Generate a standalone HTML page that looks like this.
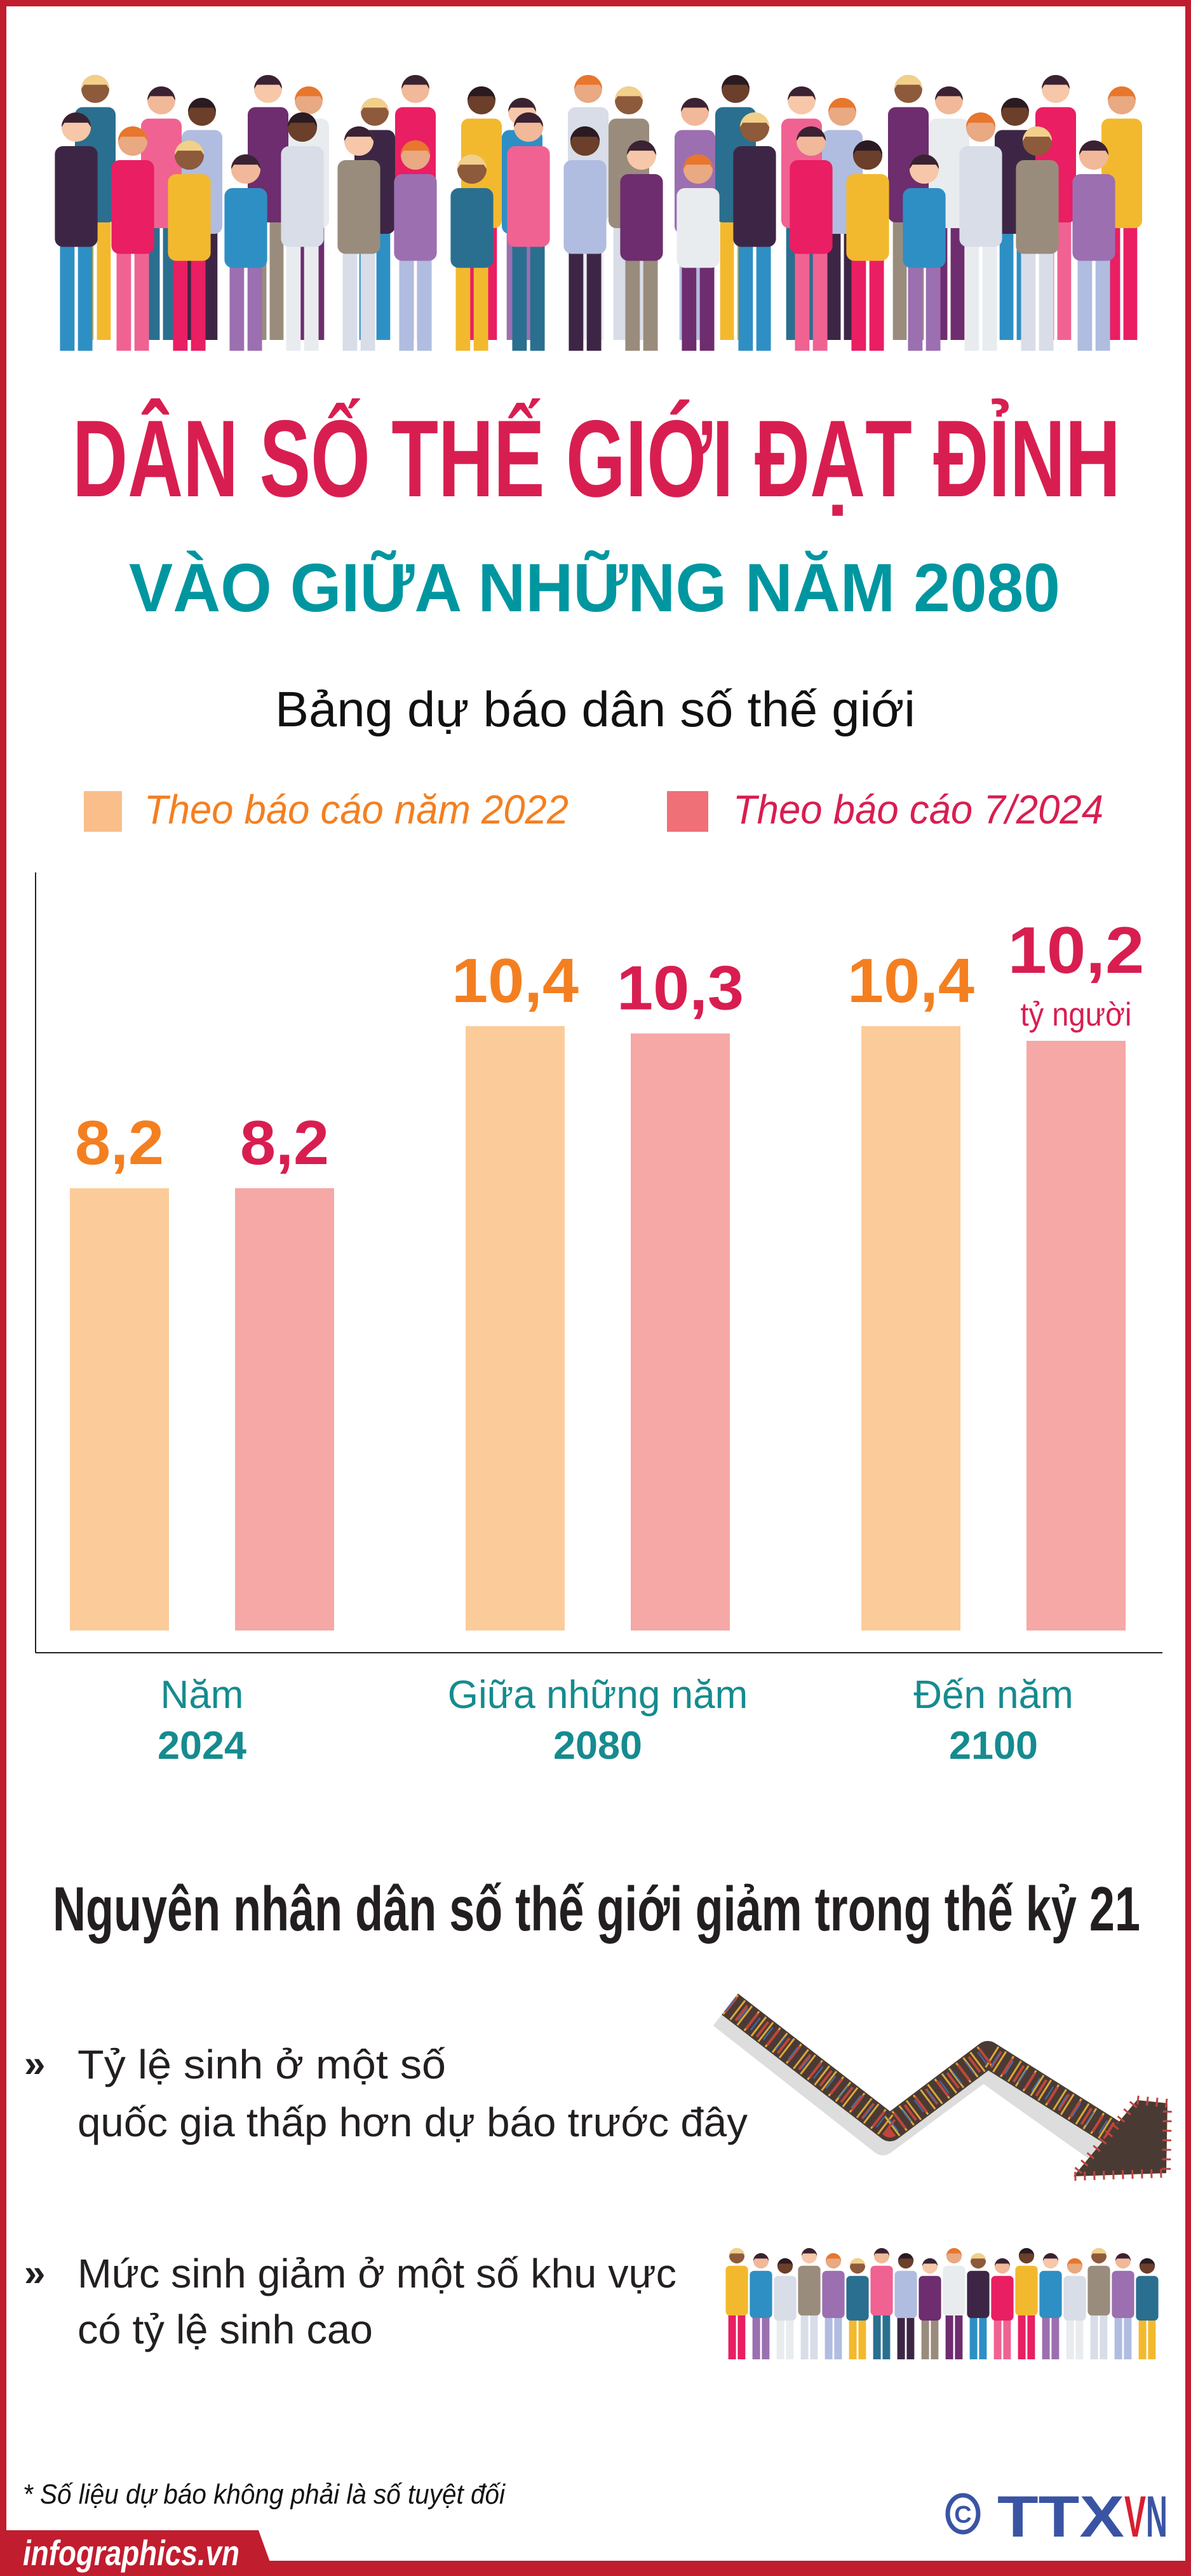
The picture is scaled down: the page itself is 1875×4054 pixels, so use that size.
<!DOCTYPE html>
<html><head><meta charset="utf-8"><style>
html,body{margin:0;padding:0;background:#fff}
svg{display:block}
text{font-family:"Liberation Sans","DejaVu Sans",sans-serif}
</style></head><body>
<svg id="root" width="1875" height="4054" viewBox="0 0 1875 4054" xmlns="http://www.w3.org/2000/svg">
<rect x="0" y="0" width="1875" height="4054" fill="#fff"/>
<g id="people-top"></g>

<text x="939" y="781" text-anchor="middle" font-size="172" font-weight="bold" fill="#d81e50" textLength="1650" lengthAdjust="spacingAndGlyphs">DÂN SỐ THẾ GIỚI ĐẠT ĐỈNH</text>
<text x="936" y="962" text-anchor="middle" font-size="108" font-weight="bold" fill="#0096a0" textLength="1466" lengthAdjust="spacingAndGlyphs">VÀO GIỮA NHỮNG NĂM 2080</text>
<text x="937" y="1143" text-anchor="middle" font-size="78" fill="#111" textLength="1008" lengthAdjust="spacingAndGlyphs">Bảng dự báo dân số thế giới</text>

<g>
<rect x="132" y="1245" width="60" height="64" fill="#f9be8a"/>
<text x="227" y="1296" font-size="64" font-style="italic" fill="#f47f20" textLength="668" lengthAdjust="spacingAndGlyphs">Theo báo cáo năm 2022</text>
<rect x="1050" y="1245" width="65" height="64" fill="#f07077"/>
<text x="1154" y="1296" font-size="64" font-style="italic" fill="#d81e50" textLength="583" lengthAdjust="spacingAndGlyphs">Theo báo cáo 7/2024</text>
</g>

<g id="chart">
<line x1="56" y1="1373" x2="56" y2="2601" stroke="#222" stroke-width="2"/>
<line x1="56" y1="2601" x2="1830" y2="2601" stroke="#222" stroke-width="2"/>
</g>

<text x="939" y="3038" text-anchor="middle" font-size="98" font-weight="bold" fill="#231f20" textLength="1712" lengthAdjust="spacingAndGlyphs">Nguyên nhân dân số thế giới giảm trong thế kỷ 21</text>

<g>
<text x="38" y="3268" font-size="60" font-weight="bold" fill="#231f20">»</text>
<text x="122" y="3271" font-size="64" fill="#231f20" textLength="580" lengthAdjust="spacingAndGlyphs">Tỷ lệ sinh ở một số</text>
<text x="122" y="3362" font-size="64" fill="#231f20" textLength="1055" lengthAdjust="spacingAndGlyphs">quốc gia thấp hơn dự báo trước đây</text>
</g>
<g>
<text x="38" y="3597" font-size="60" font-weight="bold" fill="#231f20">»</text>
<text x="122" y="3600" font-size="64" fill="#231f20" textLength="943" lengthAdjust="spacingAndGlyphs">Mức sinh giảm ở một số khu vực</text>
<text x="122" y="3688" font-size="64" fill="#231f20" textLength="465" lengthAdjust="spacingAndGlyphs">có tỷ lệ sinh cao</text>
</g>

<g>
<polyline points="1135,3172 1390,3372 1548,3255 1745,3395" fill="none" stroke="#cfcfcf" stroke-width="40" stroke-linejoin="round" opacity="0.7"/>
<polyline points="1149,3154 1401,3349 1555,3233 1760,3362" fill="none" stroke="#4a3a34" stroke-width="42" stroke-linejoin="round"/>
<polyline points="1149,3154 1401,3349 1555,3233 1760,3362" fill="none" stroke="#d9a93a" stroke-width="38" stroke-dasharray="3 11" stroke-linejoin="round"/>
<polyline points="1149,3154 1401,3349 1555,3233 1760,3362" fill="none" stroke="#c0453c" stroke-width="30" stroke-dasharray="4 17" stroke-linejoin="round"/>
<polyline points="1149,3154 1401,3349 1555,3233 1760,3362" fill="none" stroke="#3d6fb0" stroke-width="24" stroke-dasharray="2 23" stroke-linejoin="round"/>
<polygon points="1790,3305 1838,3310 1836,3420 1690,3425" fill="#4a3a34"/>
<polygon points="1790,3305 1838,3310 1836,3420 1690,3425" fill="none" stroke="#c0453c" stroke-width="14" stroke-dasharray="3 12"/>
</g>
<g id="people-bottom"></g>

<text x="36" y="3940" font-size="44" font-style="italic" fill="#111" textLength="759" lengthAdjust="spacingAndGlyphs">* Số liệu dự báo không phải là số tuyệt đối</text>

<g>
<ellipse cx="1516" cy="3956" rx="24" ry="29" fill="none" stroke="#3a54a4" stroke-width="7"/>
<text x="1516" y="3970" text-anchor="middle" font-size="38" font-weight="bold" fill="#3a54a4">C</text>
<text x="1570" y="3992" font-size="92" font-weight="bold" fill="#3a54a4" textLength="200" lengthAdjust="spacingAndGlyphs">TTX</text>
<text x="1770" y="3992" font-size="92" font-weight="bold" fill="#d81e30" textLength="34" lengthAdjust="spacingAndGlyphs">V</text>
<text x="1804" y="3992" font-size="92" font-weight="bold" fill="#3a54a4" textLength="34" lengthAdjust="spacingAndGlyphs">N</text>
</g>

<g>
<rect x="0" y="0" width="1875" height="10" fill="#c01d2f"/>
<rect x="0" y="0" width="10" height="4054" fill="#c01d2f"/>
<rect x="1866" y="0" width="9" height="4054" fill="#c01d2f"/>
<rect x="0" y="4030" width="1875" height="24" fill="#c01d2f"/>
<polygon points="0,3982 407,3982 433,4054 0,4054" fill="#c01d2f"/>
</g>
<text x="36" y="4037" font-size="56" font-weight="bold" font-style="italic" fill="#fff" textLength="341" lengthAdjust="spacingAndGlyphs">infographics.vn</text>
</svg>
<script>
const categoriesLine1 = ["Năm", "Giữa những năm", "Đến năm"];
const categoriesLine2 = ["2024", "2080", "2100"];
const series2022 = [8.2, 10.4, 10.4];
const series2024 = [8.2, 10.3, 10.2];
const valueLabels2022 = ["8,2", "10,4", "10,4"];
const valueLabels2024 = ["8,2", "10,3", "10,2"];

const NS = "http://www.w3.org/2000/svg";
function mk(tag, attrs, parent) {
  const e = document.createElementNS(NS, tag);
  for (const k in attrs) e.setAttribute(k, attrs[k]);
  parent.appendChild(e);
  return e;
}
const BASE = 2566, PX_PER_UNIT = 116, DOMAIN_MIN = 2.2;
function yScale(v) { return BASE - (v - DOMAIN_MIN) * PX_PER_UNIT; }
function groupX(i) { return 318 + i * 623; }
const BAR_W = 156, OFF = 130;

const chart = document.getElementById("chart");
categoriesLine1.forEach((c, i) => {
  const cx = groupX(i);
  [[series2022, valueLabels2022, "#fccb9a", "#f47f20", -OFF, "2022"],
   [series2024, valueLabels2024, "#f5a8a5", "#d81e50", OFF, "2024"]].forEach(([s, lab, fill, tc, off, nm]) => {
    const v = s[i];
    const barTop = yScale(v);
    const bx = cx + off - BAR_W / 2;
    const r = mk("rect", {x: bx, y: barTop, width: BAR_W, height: BASE - barTop, fill: fill}, chart);
    
    
    const isLast = (nm === "2024" && i === categoriesLine1.length - 1);
    const t = mk("text", {x: cx + off, y: isLast ? barTop - 107 : barTop - 38, "text-anchor": "middle", "font-size": isLast ? 104 : 98, "font-weight": "bold", fill: tc}, chart);
    t.textContent = lab[i];
    t.setAttribute("textLength", lab[i].length > 3 ? (isLast ? 215 : 200) : 140);
    t.setAttribute("lengthAdjust", "spacingAndGlyphs");
    
    
    if (isLast) {
      const u = mk("text", {x: cx + off, y: barTop - 24, "text-anchor": "middle", "font-size": 52, fill: "#d81e50", textLength: 175, lengthAdjust: "spacingAndGlyphs"}, chart);
      u.textContent = "tỷ người";
      
      
    }
  });
  const l1 = mk("text", {x: cx, y: 2688, "text-anchor": "middle", "font-size": 62, fill: "#168b8f"}, chart);
  l1.textContent = c;
  
  
  const l2 = mk("text", {x: cx, y: 2768, "text-anchor": "middle", "font-size": 62, "font-weight": "bold", fill: "#168b8f", textLength: 140, lengthAdjust: "spacingAndGlyphs"}, chart);
  l2.textContent = categoriesLine2[i];
  
  
});

/* decorative people */
const pal = ["#3d2645","#e91e63","#f3b92e","#2e8fc4","#d8dde8","#9a8c7c","#9c6fb0","#2a6f8f","#f06292","#b0bde0","#6e2d6e","#e9ecef"];
const skins = ["#f6c7a8","#e8a983","#8d5a3c","#f1b899","#6b3f2a"];
const hairs = ["#3a2233","#e8762c","#f2d08a","#3a2233","#2b1a22"];
function drawPerson(g, x, headY, footY, scale, k) {
  const body = pal[k % pal.length], legs = pal[(k * 5 + 3) % pal.length];
  const hr = 22 * scale, w = 64 * scale;
  const torsoTop = headY + hr * 1.3, hip = headY + (footY - headY) * 0.5;
  mk("rect", {x: x - w * 0.38, y: hip - 5, width: w * 0.34, height: footY - hip, fill: legs}, g);
  mk("rect", {x: x + w * 0.04, y: hip - 5, width: w * 0.34, height: footY - hip, fill: legs}, g);
  mk("rect", {x: x - w / 2, y: torsoTop, width: w, height: hip - torsoTop + 10, rx: 12 * scale, fill: body}, g);
  mk("circle", {cx: x, cy: headY, r: hr, fill: skins[k % skins.length]}, g);
  mk("path", {d: `M${x-hr},${headY} A${hr},${hr} 0 0 1 ${x+hr},${headY} L${x+hr*0.8},${headY-hr*0.3} L${x-hr*0.8},${headY-hr*0.3}Z`, fill: hairs[k % hairs.length]}, g);
}
const peopleTop = document.getElementById("people-top");
for (let i = 0; i < 20; i++) drawPerson(peopleTop, 150 + i * 84 + (i % 2) * 20, 140 + (i % 3) * 18, 540, 1.0, i + 7);
for (let i = 0; i < 19; i++) drawPerson(peopleTop, 120 + i * 89, 200 + (i % 4) * 22, 557, 1.05, i);
const peopleBottom = document.getElementById("people-bottom");
for (let i = 0; i < 18; i++) drawPerson(peopleBottom, 1160 + i * 38, 3550 + (i % 3) * 8, 3718, 0.55, i + 2);
</script>
</body></html>
